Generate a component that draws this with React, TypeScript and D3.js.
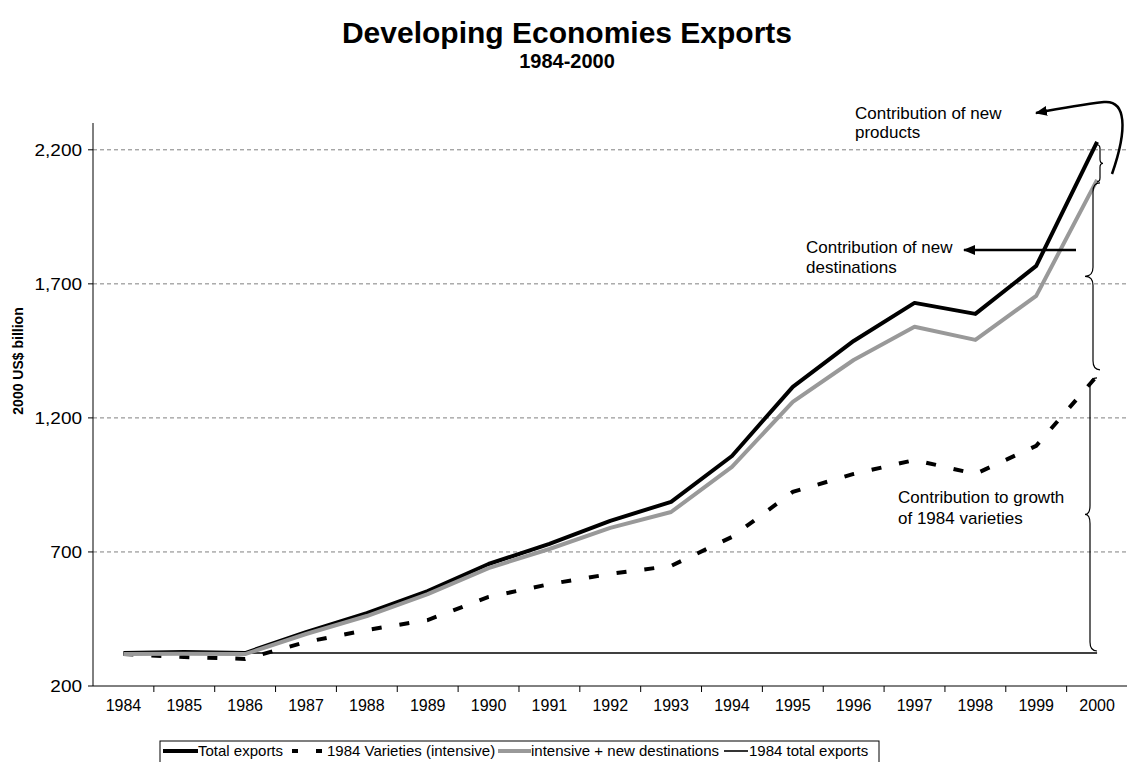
import * as d3 from 'd3';

// values (2000 US$ billion)
const years = ['1984', '1985', '1986', '1987', '1988', '1989', '1990', '1991', '1992',
  '1993', '1994', '1995', '1996', '1997', '1998', '1999', '2000'];
const totalExports = [323, 327, 323, 401, 472, 554, 655, 730, 816, 887, 1058, 1316, 1487, 1629, 1588, 1767, 2230];
const varieties1984 = [319, 308, 301, 364, 409, 446, 532, 580, 618, 648, 756, 924, 991, 1043, 991, 1096, 1357];
const newDestinations = [319, 320, 319, 394, 461, 543, 640, 711, 790, 849, 1017, 1260, 1416, 1540, 1491, 1655, 2088];
const yTicks = [200, 700, 1200, 1700, 2200];
const gridTicks = [700, 1200, 1700, 2200];

const W = 1127;
const H = 762;
const FONT = '"Liberation Sans", Arial, sans-serif';

// curly brace: tips at xt, spine at xs, point at xp
function brace(xt: number, xs: number, xp: number, y1: number, y2: number, r: number) {
  const ym = (y1 + y2) / 2;
  return `M${xt},${y1} Q${xs},${y1} ${xs},${y1 + r} L${xs},${ym - r} Q${xs},${ym} ${xp},${ym}` +
    ` Q${xs},${ym} ${xs},${ym + r} L${xs},${y2 - r} Q${xs},${y2} ${xt},${y2}`;
}

const App = () => {
  const x = d3.scaleBand().domain(years).range([93, 1127.5]).padding(0);
  const y = d3.scaleLinear().domain([200, 2300]).range([686, 123]);
  const cx = (yr: string) => (x(yr) as number) + x.bandwidth() / 2;

  const line = d3.line<number>()
    .x((_, i) => cx(years[i]))
    .y(d => y(d));

  const last = years.length - 1;
  const base = totalExports[0];
  const yTot = y(totalExports[last]);
  const yDest = y(newDestinations[last]);
  const yVar = y(varieties1984[last]);
  const yBase = y(base);

  return (
    <svg width={W} height={H} style={{ position: 'absolute', left: 0, top: 0, background: '#fff' }}
      fontFamily={FONT}>
      <defs>
        <marker id="arr" viewBox="0 0 12 10" refX="11" refY="5" markerWidth="12" markerHeight="10"
          markerUnits="userSpaceOnUse" orient="auto">
          <path d="M0,0 L12,5 L0,10 Z" fill="#000" />
        </marker>
      </defs>

      <text x={567} y={43} textAnchor="middle" fontSize={30} fontWeight="bold">Developing Economies Exports</text>
      <text x={567} y={68} textAnchor="middle" fontSize={20} fontWeight="bold">1984-2000</text>

      {/* grid */}
      {gridTicks.map(t => (
        <line key={t} x1={93} x2={W} y1={y(t)} y2={y(t)} stroke="#808080" strokeWidth={1} strokeDasharray="4,3" />
      ))}

      {/* y axis */}
      <line x1={93} x2={93} y1={123} y2={686} stroke="#000" />
      {yTicks.map(t => (
        <g key={t}>
          <line x1={88} x2={93} y1={y(t)} y2={y(t)} stroke="#000" />
          <text transform={`translate(82,${y(t) + 6}) scale(1.15,1)`} textAnchor="end" fontSize={16.5}>
            {d3.format(',')(t)}
          </text>
        </g>
      ))}
      <text transform="translate(23,361) rotate(-90)" textAnchor="middle" fontSize={14} fontWeight="bold">2000 US$ billion</text>

      {/* x axis */}
      <line x1={93} x2={W} y1={686} y2={686} stroke="#000" />
      {years.map(yr => (
        <g key={yr}>
          <line x1={(x(yr) as number) + x.bandwidth()} x2={(x(yr) as number) + x.bandwidth()} y1={686} y2={692} stroke="#000" />
          <text x={cx(yr)} y={711} textAnchor="middle" fontSize={16}>{yr}</text>
        </g>
      ))}

      {/* 1984 total exports */}
      <line x1={cx(years[0])} x2={cx(years[last])} y1={yBase} y2={yBase} stroke="#000" strokeWidth={1.6} />

      {/* series */}
      <path d={line(totalExports) || ''} fill="none" stroke="#000" strokeWidth={4} strokeLinejoin="round" />
      <path d={line(varieties1984) || ''} fill="none" stroke="#000" strokeWidth={4} strokeDasharray="10,18" />
      <path d={line(newDestinations) || ''} fill="none" stroke="#999" strokeWidth={4} strokeLinejoin="round" />

      {/* braces */}
      <path d={brace(1097, 1100, 1103, yTot + 3, yDest + 2, 4)} fill="none" stroke="#000" strokeWidth={1.2} />
      <path d={brace(1100, 1093, 1085, yDest + 3, yVar - 6, 9)} fill="none" stroke="#000" strokeWidth={1.2} />
      <path d={brace(1097, 1090, 1085, yVar + 2, yBase - 2, 9)} fill="none" stroke="#000" strokeWidth={1.2} />

      {/* annotations */}
      <path d="M1112,174 C1128,128 1126,100 1104,102 Q1078,105 1036,113" fill="none" stroke="#000"
        strokeWidth={2.5} markerEnd="url(#arr)" />
      <text fontSize={17}>
        <tspan x={855} y={119}>Contribution of new</tspan>
        <tspan x={855} y={138}>products</tspan>
      </text>

      <line x1={1076} x2={964} y1={250} y2={250} stroke="#000" strokeWidth={2.5} markerEnd="url(#arr)" />
      <text fontSize={17}>
        <tspan x={806} y={253}>Contribution of new</tspan>
        <tspan x={806} y={273}>destinations</tspan>
      </text>

      <text fontSize={17}>
        <tspan x={898} y={503}>Contribution to growth</tspan>
        <tspan x={898} y={524}>of 1984 varieties</tspan>
      </text>

      {/* legend */}
      <rect x={160} y={741} width={719} height={40} fill="#fff" stroke="#000" strokeWidth={1} />
      <line x1={163} x2={198} y1={751} y2={751} stroke="#000" strokeWidth={4} />
      <text x={198} y={756} fontSize={15}>Total exports</text>
      <line x1={292} x2={322} y1={751} y2={751} stroke="#000" strokeWidth={4} strokeDasharray="6,18" />
      <text x={327} y={756} fontSize={15}>1984 Varieties (intensive)</text>
      <line x1={498} x2={531} y1={751} y2={751} stroke="#999" strokeWidth={4} />
      <text x={531} y={756} fontSize={15}>intensive + new destinations</text>
      <line x1={724} x2={748} y1={751} y2={751} stroke="#000" strokeWidth={1.6} />
      <text x={749} y={756} fontSize={15}>1984 total exports</text>
    </svg>
  );
};

export default App;
